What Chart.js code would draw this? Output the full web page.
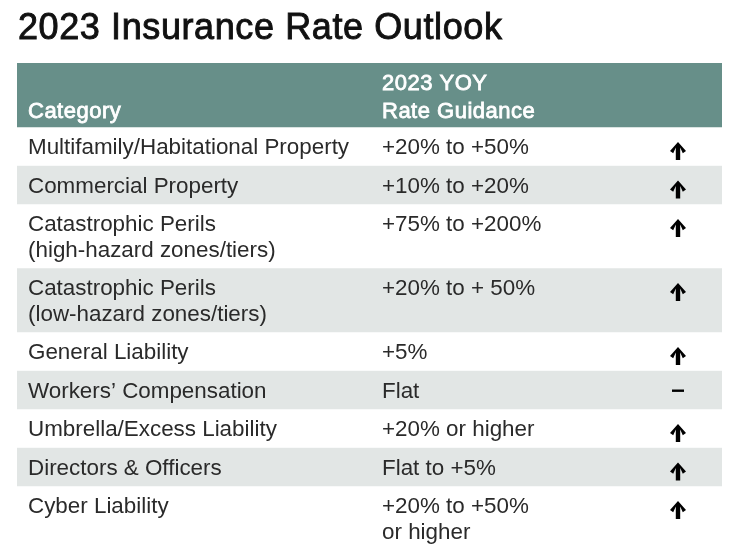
<!DOCTYPE html>
<html>
<head>
<meta charset="utf-8">
<script src="https://cdn.jsdelivr.net/npm/chart.js@4.4.1/dist/chart.umd.min.js"></script>
<style>
  html, body { margin: 0; padding: 0; background: #fff; }
  #wrap { position: relative; width: 734px; height: 554px; }
</style>
</head>
<body>
<div id="wrap"><canvas id="rateTable"></canvas></div>
<script>
const title = "2023 Insurance Rate Outlook";
const headers = ["Category", "2023 YOY\nRate Guidance", ""];

const categories = [
  "Multifamily/Habitational Property",
  "Commercial Property",
  "Catastrophic Perils\n(high-hazard zones/tiers)",
  "Catastrophic Perils\n(low-hazard zones/tiers)",
  "General Liability",
  "Workers\u2019 Compensation",
  "Umbrella/Excess Liability",
  "Directors & Officers",
  "Cyber Liability"
];

const guidance = [
  "+20% to +50%",
  "+10% to +20%",
  "+75% to +200%",
  "+20% to + 50%",
  "+5%",
  "Flat",
  "+20% or higher",
  "Flat to +5%",
  "+20% to +50%\nor higher"
];

const direction = ["up", "up", "up", "up", "up", "flat", "up", "up", "up"];

// layout
const LINE = 25.5;
const PAD = 13;
const TOP = 63;
const FONT = "Liberation Sans, Arial, sans-serif";
const TEXT = "#2a2a2a";
const HEAD_BG = "#678f89";
const STRIPE = "#e2e6e5";
const COL_X = [11, 365, 661]; // offsets from chart left (arrow col is centre)

const lineCount = s => s.split("\n").length;
const headerHeight = PAD + 2 * LINE;
const rowHeights = categories.map((c, i) => PAD + LINE * Math.max(lineCount(c), lineCount(guidance[i])));
const heights = [headerHeight, ...rowHeights];
const total = heights.reduce((a, b) => a + b, 0);

const datasets = heights.map((h, i) => ({
  label: i === 0 ? "header" : categories[i - 1],
  data: [h],
  backgroundColor: i === 0 ? HEAD_BG : (i % 2 === 0 ? STRIPE : "#ffffff"),
  borderWidth: 0,
  borderSkipped: false,
  stack: "rows"
}));

function drawArrow(ctx, cx, top) {
  const w = 16, h = 18, head = 9, stem = 4.4, arm = 3.2;
  ctx.beginPath();
  ctx.moveTo(cx, top);
  ctx.lineTo(cx + w / 2, top + head);
  ctx.lineTo(cx + w / 2 - arm, top + head + 2.2);
  ctx.lineTo(cx + stem / 2, top + 5.6);
  ctx.lineTo(cx + stem / 2, top + h);
  ctx.lineTo(cx - stem / 2, top + h);
  ctx.lineTo(cx - stem / 2, top + 5.6);
  ctx.lineTo(cx - w / 2 + arm, top + head + 2.2);
  ctx.lineTo(cx - w / 2, top + head);
  ctx.closePath();
  ctx.fill();
}

const tableText = {
  id: "tableText",
  afterDatasetsDraw(chart) {
    const { ctx, chartArea, scales } = chart;
    const y = scales.y;
    const left = chartArea.left;
    ctx.save();
    ctx.textBaseline = "alphabetic";
    ctx.textAlign = "left";

    // title
    ctx.font = `36px ${FONT}`;
    ctx.letterSpacing = "0.6px";
    ctx.fillStyle = "#111111";
    ctx.strokeStyle = "#111111";
    ctx.lineWidth = 0.9;
    ctx.fillText(title, left + 1, 39);
    ctx.strokeText(title, left + 1, 39);

    // header
    const hBot = y.getPixelForValue(heights[0]);
    ctx.font = `22px ${FONT}`;
    ctx.letterSpacing = "0.5px";
    ctx.fillStyle = "#ffffff";
    ctx.strokeStyle = "#ffffff";
    ctx.lineWidth = 0.8;
    headers.forEach((t, c) => {
      const lines = t ? t.split("\n") : [];
      lines.forEach((ln, k) => {
        const by = hBot - 9 - (lines.length - 1 - k) * 28;
        ctx.fillText(ln, left + COL_X[c], by);
        ctx.strokeText(ln, left + COL_X[c], by);
      });
    });

    // body rows
    let start = heights[0];
    ctx.font = `22.4px ${FONT}`;
    ctx.letterSpacing = "0px";
    ctx.fillStyle = TEXT;
    categories.forEach((cat, i) => {
      const rTop = y.getPixelForValue(start);
      [cat, guidance[i]].forEach((t, c) => {
        t.split("\n").forEach((ln, k) => {
          ctx.fillText(ln, left + COL_X[c], rTop + 27 + k * LINE);
        });
      });
      ctx.fillStyle = "#000";
      const cx = left + COL_X[2];
      if (direction[i] === "up") {
        drawArrow(ctx, cx, rTop + 15);
      } else {
        ctx.fillRect(cx - 6, rTop + 19, 12, 2.4);
      }
      ctx.fillStyle = TEXT;
      start += heights[i + 1];
    });
    ctx.restore();
  }
};

new Chart(document.getElementById("rateTable"), {
  type: "bar",
  data: { labels: ["rows"], datasets },
  options: {
    responsive: true,
    maintainAspectRatio: false,
    animation: false,
    events: [],
    layout: { padding: { left: 17, right: 12, top: TOP, bottom: 554 - TOP - total } },
    datasets: { bar: { barPercentage: 1, categoryPercentage: 1 } },
    scales: {
      x: { display: false, stacked: true },
      y: { display: false, stacked: true, reverse: true, min: 0, max: total }
    },
    plugins: {
      legend: { display: false },
      tooltip: { enabled: false },
      title: { display: false }
    }
  },
  plugins: [tableText]
});
</script>
</body>
</html>
